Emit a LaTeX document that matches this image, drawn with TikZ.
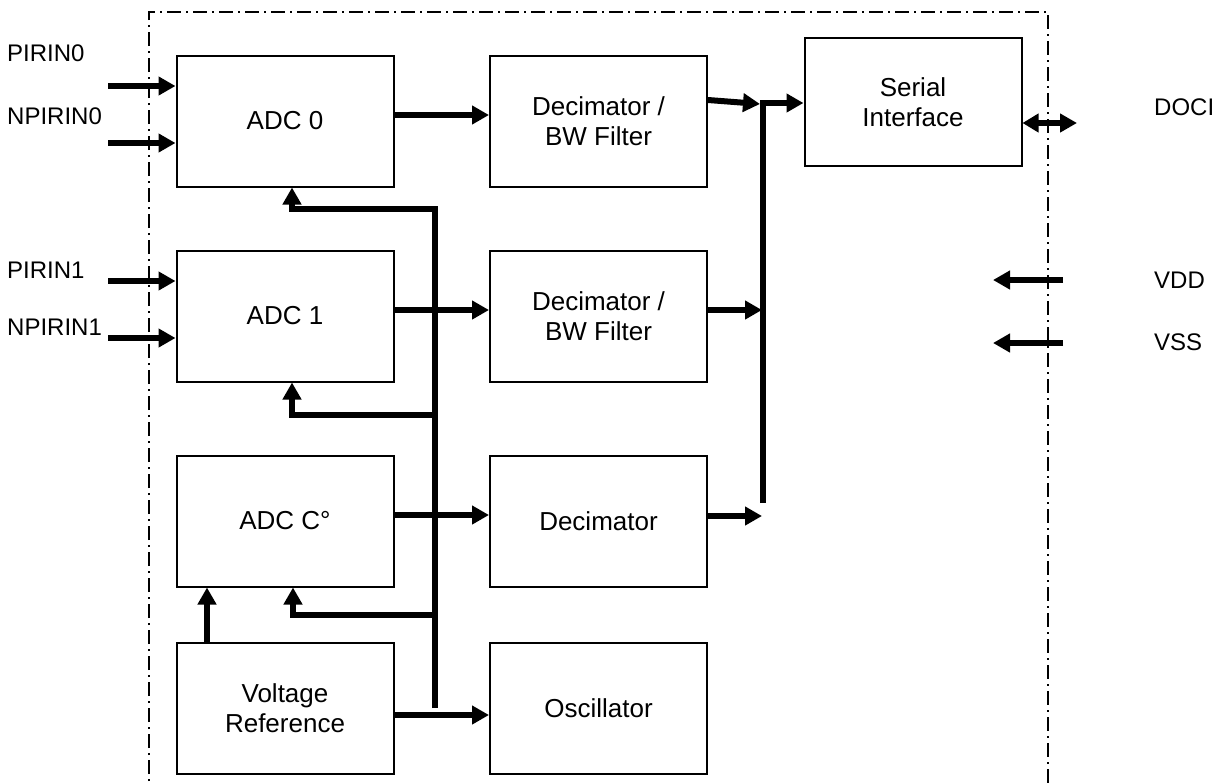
\documentclass[tikz,border=0pt]{standalone}
\usepackage{fontspec}
\setmainfont{Liberation Sans}
\usetikzlibrary{arrows.meta}
\begin{document}
\begin{tikzpicture}[x=1pt,y=-1pt,
  box/.style={draw,line width=2pt,minimum width=217pt,minimum height=131pt,align=center,
    font=\fontsize{26}{30}\selectfont,inner sep=0pt},
  arr/.style={line width=6pt,line join=miter,-{Triangle[length=17pt,width=18pt]}},
  bus/.style={line width=6pt,line join=miter},
  lbl/.style={font=\fontsize{24}{28}\selectfont,anchor=west,inner sep=0pt},
  border/.style={line width=1.5pt,dash pattern=on 14pt off 5pt on 2pt off 5pt}]
\useasboundingbox (0,0) rectangle (1223,782);
% boundary
\draw[border] (149,800) -- (149,12) -- (1048,12) -- (1048,800);
% blocks
\node[box] (adc0) at (285,121) {ADC 0};
\node[box] (dec0) at (598.5,121) {Decimator /\\BW Filter};
\node[box,minimum height=128pt] (ser) at (913,102) {Serial\\Interface};
\node[box] (adc1) at (285,316) {ADC 1};
\node[box] (dec1) at (598.5,316) {Decimator /\\BW Filter};
\node[box] (adcc) at (285,521) {ADC C°};
\node[box] (decc) at (598.5,521) {Decimator};
\node[box] (vref) at (285,708) {Voltage\\Reference};
\node[box] (osc) at (598.5,708) {Oscillator};
% input labels
\node[lbl] (lp0) at (7,53) {PIRIN0};
\node[lbl] (ln0) at (7,116) {NPIRIN0};
\node[lbl] (lp1) at (7,270) {PIRIN1};
\node[lbl] (ln1) at (7,327) {NPIRIN1};
\node[lbl] (ldoci) at (1154,107) {DOCI};
\node[lbl] (lvdd) at (1154,280) {VDD};
\node[lbl] (lvss) at (1154,342) {VSS};
% input arrows
\coordinate (p0) at (108,86);
\coordinate (n0) at (108,143);
\coordinate (p1) at (108,281);
\coordinate (n1) at (108,338);
\draw[arr] (p0) -- (adc0.west |- p0);
\draw[arr] (n0) -- (adc0.west |- n0);
\draw[arr] (p1) -- (adc1.west |- p1);
\draw[arr] (n1) -- (adc1.west |- n1);
% ADC -> decimators
\draw[arr] (adc0.east |- 0,115) -- (dec0.west |- 0,115);
\draw[arr] (adc1.east |- 0,310) -- (dec1.west |- 0,310);
\draw[arr] (adcc.east |- 0,515) -- (decc.west |- 0,515);
\draw[arr] (vref.east |- 0,715) -- (osc.west |- 0,715);
% output bus
\coordinate (busT) at (763,103);
\coordinate (busB) at (763,503);
\draw[arr] (busB) -- (busT) -- (ser.west |- busT);
\draw[arr] (dec0.east |- 0,100) -- (760,104);
\draw[arr] (dec1.east |- 0,310) -- (762,310);
\draw[arr] (decc.east |- 0,516) -- (762,516);
% clock bus
\coordinate (ckT) at (435,209);
\coordinate (ckB) at (435,708);
\draw[arr] (ckB) -- (ckT) -| ([xshift=7pt]adc0.south);
\draw[arr] (ckT |- 0,415) -| ([xshift=7pt]adc1.south);
\draw[arr] (ckT |- 0,615) -| ([xshift=8pt]adcc.south);
% reference -> ADC C
\draw[arr] (vref.north -| 207,0) -- (adcc.south -| 207,0);
% serial I/O and supplies
\draw[line width=6pt,{Triangle[length=16pt,width=18pt]}-{Triangle[length=17pt,width=18pt]}] (ser.east |- 0,123) -- (1077,123);
\coordinate (vdd) at (1063,280);
\coordinate (vss) at (1063,343);
\draw[arr] (vdd) -- (993,280);
\draw[arr] (vss) -- (993,343);
\end{tikzpicture}
\end{document}
